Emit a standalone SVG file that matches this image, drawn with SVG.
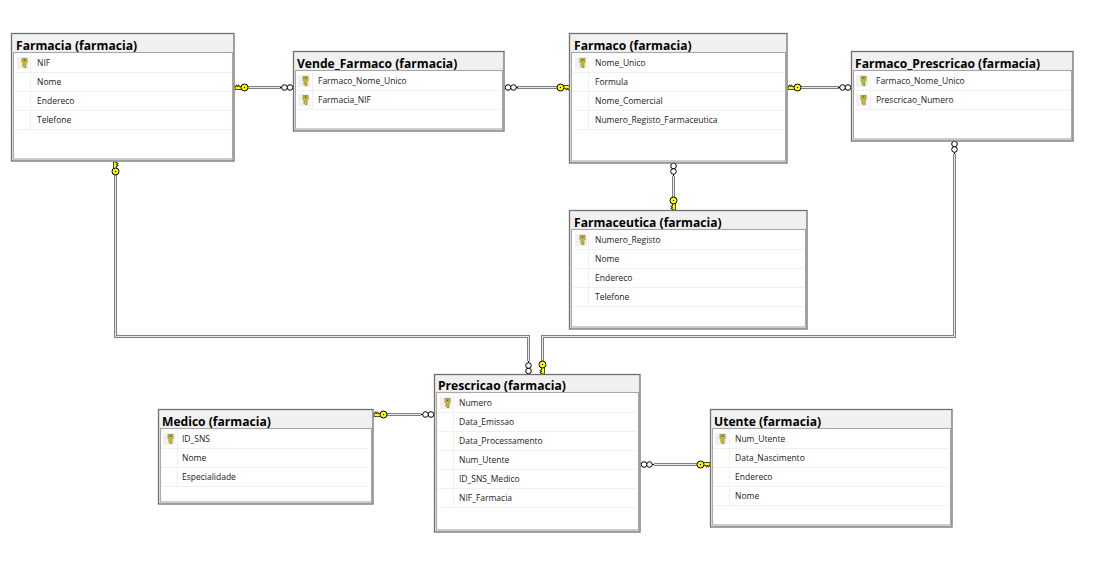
<svg xmlns="http://www.w3.org/2000/svg" width="1100" height="577" viewBox="0 0 1100 577">
<style>
.outer{fill:#f0f0f0;stroke:#707070;stroke-width:1.3}
.inner{fill:#fff;stroke:#a8a8a8;stroke-width:1.1}
.sep{stroke:#f0f0f0;stroke-width:1;fill:none}
.title{font-family:"Open Sans","Liberation Sans",sans-serif;font-weight:700;font-size:12.1px;fill:#000}
.col{font-family:"Open Sans","Liberation Sans",sans-serif;font-size:8.5px;fill:#1a1a1a}
.w1{fill:none;stroke:#808080;stroke-width:3}
.w2{fill:none;stroke:#e8e8e8;stroke-width:1}
</style>
<defs>
<g id="k">
<rect x="0" y="4" width="12" height="12" fill="#f0f0f0"/>
<path d="M5 5.500h5v4l-1 1v4h-2l-1-1v-3l-1-1z" fill="#c9bd1e" stroke="#8f8a50" stroke-width="0.8"/>
<rect x="6.800" y="6.500" width="1.500" height="1.500" fill="#555"/>
</g>
<g id="key">
<path d="M6 -2H13V1H12V2.500H11V1H10V2.500H9V1H6z" fill="#ffff00" stroke="#000" stroke-width="0.7"/>
<circle cx="3.500" cy="0" r="3.500" fill="#ffff00" stroke="#000" stroke-width="1"/>
<circle cx="3.500" cy="0" r="0.700" fill="#000"/>
</g>
<g id="inf">
<circle cx="3" cy="0" r="2.800" fill="#fff" stroke="#000" stroke-width="1"/>
<circle cx="8.500" cy="0" r="2.800" fill="#fff" stroke="#000" stroke-width="1"/>
<path d="M11.300 0H13" stroke="#000" stroke-width="1"/>
</g>
</defs>
<rect width="1100" height="577" fill="#fff"/>
<g id="connectors">
<path class="w1" d="M246 87.500H281"/><path class="w2" d="M246 87.500H281"/>
<path class="w1" d="M517 87.500H559"/><path class="w2" d="M517 87.500H559"/>
<path class="w1" d="M799 87.500H839"/><path class="w2" d="M799 87.500H839"/>
<path class="w1" d="M673.500 176V200"/><path class="w2" d="M673.500 176V200"/>
<path class="w1" d="M115.500 172V336.500H528.500V361"/><path class="w2" d="M115.500 172V336.500H528.500V361"/>
<path class="w1" d="M954.500 154V336.500H542.500V364"/><path class="w2" d="M954.500 154V336.500H542.500V364"/>
<path class="w1" d="M385 414.500H421"/><path class="w2" d="M385 414.500H421"/>
<path class="w1" d="M654 464.500H699"/><path class="w2" d="M654 464.500H699"/>
<use href="#key" transform="translate(248 87.500) rotate(180)"/>
<use href="#inf" transform="translate(293 87.500) rotate(180)"/>
<use href="#inf" transform="translate(505 87.500)"/>
<use href="#key" transform="translate(557 87.500)"/>
<use href="#key" transform="translate(801 87.500) rotate(180)"/>
<use href="#inf" transform="translate(851 87.500) rotate(180)"/>
<use href="#inf" transform="translate(673.500 163) rotate(90)"/>
<use href="#key" transform="translate(673.500 197) rotate(90)"/>
<use href="#key" transform="translate(115.500 175) rotate(-90)"/>
<use href="#inf" transform="translate(528.500 374) rotate(-90)"/>
<use href="#inf" transform="translate(954.500 141) rotate(90)"/>
<use href="#key" transform="translate(542.500 361) rotate(90)"/>
<use href="#key" transform="translate(387 414.500) rotate(180)"/>
<use href="#inf" transform="translate(434 414.500) rotate(180)"/>
<use href="#inf" transform="translate(641 464.500)"/>
<use href="#key" transform="translate(697 464.500)"/>
</g>
<g id="farmacia">
<rect class="outer" x="11.500" y="33.500" width="222.500" height="127.500"/>
<rect class="inner" x="13.500" y="52.500" width="219" height="106.500"/>
<path class="sep" d="M15 72.500H231M15 91.500H231M15 110.500H231M15 129.500H231M30.500 54V129"/>
<text class="title" x="16" y="50">Farmacia (farmacia)</text>
<use href="#k" x="17" y="53"/>
<text class="col" x="37" y="66">NIF</text><text class="col" x="37" y="85">Nome</text><text class="col" x="37" y="104">Endereco</text><text class="col" x="37" y="123">Telefone</text>
</g>
<g id="vende_farmaco">
<rect class="outer" x="293.500" y="51.500" width="210.500" height="79.500"/>
<rect class="inner" x="295.500" y="70.500" width="207" height="58.500"/>
<path class="sep" d="M297 90.500H501M297 109.500H501M312.500 72V109"/>
<text class="title" x="297" y="68">Vende_Farmaco (farmacia)</text>
<use href="#k" x="298" y="71"/><use href="#k" x="298" y="90"/>
<text class="col" x="318" y="84">Farmaco_Nome_Unico</text><text class="col" x="318" y="103">Farmacia_NIF</text>
</g>
<g id="farmaco">
<rect class="outer" x="569.500" y="33.500" width="217.500" height="129.500"/>
<rect class="inner" x="571.500" y="52.500" width="214" height="108.500"/>
<path class="sep" d="M573 72.500H784M573 91.500H784M573 110.500H784M573 129.500H784M588.500 54V129"/>
<text class="title" x="574" y="50">Farmaco (farmacia)</text>
<use href="#k" x="575" y="53"/>
<text class="col" x="595" y="66">Nome_Unico</text><text class="col" x="595" y="85">Formula</text><text class="col" x="595" y="104">Nome_Comercial</text><text class="col" x="595" y="123">Numero_Registo_Farmaceutica</text>
</g>
<g id="farmaco_prescricao">
<rect class="outer" x="851.500" y="51.500" width="221.500" height="89.500"/>
<rect class="inner" x="853.500" y="70.500" width="218" height="68.500"/>
<path class="sep" d="M855 90.500H1070M855 109.500H1070M870.500 72V109"/>
<text class="title" x="855" y="68">Farmaco_Prescricao (farmacia)</text>
<use href="#k" x="856" y="71"/><use href="#k" x="856" y="90"/>
<text class="col" x="876" y="84">Farmaco_Nome_Unico</text><text class="col" x="876" y="103">Prescricao_Numero</text>
</g>
<g id="farmaceutica">
<rect class="outer" x="569.500" y="210.500" width="237.500" height="118.500"/>
<rect class="inner" x="571.500" y="229.500" width="234" height="97.500"/>
<path class="sep" d="M573 249.500H804M573 268.500H804M573 287.500H804M573 306.500H804M588.500 231V306"/>
<text class="title" x="574" y="227">Farmaceutica (farmacia)</text>
<use href="#k" x="575" y="230"/>
<text class="col" x="595" y="243">Numero_Registo</text><text class="col" x="595" y="262">Nome</text><text class="col" x="595" y="281">Endereco</text><text class="col" x="595" y="300">Telefone</text>
</g>
<g id="prescricao">
<rect class="outer" x="434.500" y="374.500" width="205.500" height="157.500"/>
<rect class="inner" x="436.500" y="392.500" width="202" height="137.500"/>
<path class="sep" d="M438 412.500H637M438 431.500H637M438 450.500H637M438 469.500H637M438 488.500H637M438 507.500H637M453.500 394V507"/>
<text class="title" x="438" y="390">Prescricao (farmacia)</text>
<use href="#k" x="440" y="393"/>
<text class="col" x="459" y="406">Numero</text><text class="col" x="459" y="425">Data_Emissao</text><text class="col" x="459" y="444">Data_Processamento</text><text class="col" x="459" y="463">Num_Utente</text><text class="col" x="459" y="482">ID_SNS_Medico</text><text class="col" x="459" y="501">NIF_Farmacia</text>
</g>
<g id="medico">
<rect class="outer" x="158.500" y="409.500" width="214.500" height="94.500"/>
<rect class="inner" x="160.500" y="428.500" width="211" height="73.500"/>
<path class="sep" d="M162 448.500H370M162 467.500H370M162 486.500H370M177.500 430V486"/>
<text class="title" x="162" y="426">Medico (farmacia)</text>
<use href="#k" x="163" y="429"/>
<text class="col" x="182" y="442">ID_SNS</text><text class="col" x="182" y="461">Nome</text><text class="col" x="182" y="480">Especialidade</text>
</g>
<g id="utente">
<rect class="outer" x="710.500" y="409.500" width="241.500" height="117.500"/>
<rect class="inner" x="712.500" y="428.500" width="238" height="96.500"/>
<path class="sep" d="M714 448.500H949M714 467.500H949M714 486.500H949M714 505.500H949M729.500 430V505"/>
<text class="title" x="714" y="426">Utente (farmacia)</text>
<use href="#k" x="715" y="429"/>
<text class="col" x="735" y="442">Num_Utente</text><text class="col" x="735" y="461">Data_Nascimento</text><text class="col" x="735" y="480">Endereco</text><text class="col" x="735" y="499">Nome</text>
</g>
</svg>
